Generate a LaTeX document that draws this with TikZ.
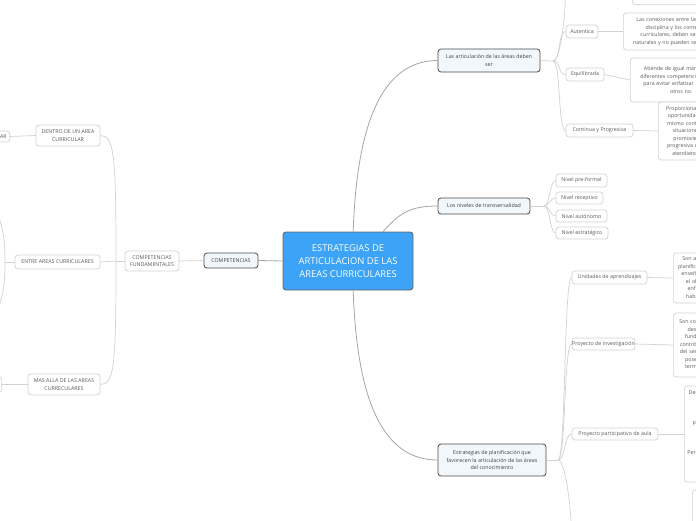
\documentclass[tikz,border=0pt]{standalone}
\usepackage{fontspec}
\setmainfont{Open Sans}
\usetikzlibrary{positioning}
\definecolor{centralblue}{RGB}{61,163,246}
\definecolor{topicfill}{RGB}{242,247,252}
\definecolor{linkgray}{RGB}{165,165,165}
\definecolor{leafgray}{RGB}{210,210,210}
\definecolor{textgray}{RGB}{90,90,90}
\tikzset{
  central/.style={draw=black!60, fill=centralblue, rounded corners=3pt, line width=0.9pt, text=white, align=center, font=\fontsize{9.4}{13}\selectfont, inner sep=0pt},
  topic/.style={draw=black!70, fill=topicfill, rounded corners=3pt, line width=0.8pt, text=black!75, align=center, font=\fontsize{5.3}{7.5}\selectfont, inner sep=0pt},
  leaf/.style={draw=leafgray, fill=white, rounded corners=3pt, line width=0.7pt, text=textgray, align=center, font=\fontsize{5.3}{7.5}\selectfont, inner sep=0pt},
  note/.style={leaf, inner xsep=3pt, anchor=west},
  link/.style={draw=linkgray, line width=0.8pt},
  branch/.style={draw=leafgray, line width=0.7pt},
}
\begin{document}
\begin{tikzpicture}[x=1pt, y=-1pt]
  \useasboundingbox (0,0) rectangle (696,520);
  \fill[white] (0,0) rectangle (696,520);
  \clip (0,0) rectangle (696,520);

  % Central
  \node[central, minimum width=130pt, minimum height=58pt] (central) at (348,261) {ESTRATEGIAS DE\\ARTICULACION DE LAS\\AREAS CURRICULARES};

  % Left side
  \node[topic, minimum width=54pt, minimum height=15pt] (comp) at (231,260.5) {COMPETENCIAS};
  \node[leaf, minimum width=54pt, minimum height=20pt] (fund) at (152,261) {COMPETENCIAS\\FUNDAMENTALES};
  \node[leaf, minimum width=64pt, minimum height=21pt] (dentro) at (68,135.5) {DENTRO DE UN AREA\\CURRICULAR};
  \node[leaf, minimum width=85pt, minimum height=14pt] (entre) at (57.5,262) {ENTRE AREAS CURRICULARES};
  \node[leaf, minimum width=72pt, minimum height=21pt] (masalla) at (64,384.5) {MAS ALLA DE LAS AREAS\\CURRECULARES};
  \node[leaf, anchor=east, inner xsep=3pt, minimum height=11pt] (intra) at (10,136.5) {INTRADISCIPLINAR};
  \node[leaf, anchor=east, minimum width=50pt, minimum height=16pt] (trans) at (2,384.5) {};
  \coordinate (fundj) at (116,261);
  \coordinate (entrej) at (5,262);
  \coordinate (entreup) at (-3,212);
  \coordinate (entredn) at (-3,312);

  \draw[link] (central.west) -- (comp.east);
  \draw[branch] (comp.west) -- (fund.east);
  \draw[branch] (fund.west) -- (fundj);
  \draw[branch] (fundj) .. controls +(0,-105) and +(14,0) .. (dentro.east);
  \draw[branch] (fundj) -- (entre.east);
  \draw[branch] (fundj) .. controls +(0,105) and +(14,0) .. (masalla.east);
  \draw[branch] (dentro.west) -- (intra.east);
  \draw[branch] (masalla.west) -- (trans.east);
  \draw[branch] (entre.west) -- (entrej);
  \draw[branch] (entrej) .. controls +(0,-30) and +(4,12) .. (entreup);
  \draw[branch] (entrej) .. controls +(0,30) and +(4,-12) .. (entredn);

  % Articulacion
  \node[topic, minimum width=102pt, minimum height=23pt] (artic) at (489,60.5) {Las articulación de las áreas deben\\ser};
  \node[leaf, minimum width=32pt, minimum height=13pt] (autent) at (582,31.5) {Autentica};
  \node[leaf, minimum width=38pt, minimum height=13pt] (equil) at (585,74.5) {Equilibrada};
  \node[leaf, minimum width=67pt, minimum height=13pt] (contin) at (599.5,130.5) {Continua y Progresiva};
  \node[note, text width=90pt, minimum height=25pt, anchor=south west] (topnote) at (632,5) {Permite la secuencia lógica\\y progresión de los aprendizajes.};
  \node[note, text width=104pt, minimum height=37pt] (autnote) at (623,31.5) {Las conexiones entre las áreas, la\\disciplina y los contenidos\\curriculares, deben ser lo más\\naturales y no pueden ser forzadas.};
  \node[note, text width=96pt, minimum height=44pt] (eqnote) at (630,80) {Atiende de igual manera a las\\diferentes competencias y áreas,\\para evitar enfatizar algunas y\\otros no.};
  \node[note, text width=90pt, minimum height=58pt] (connote) at (658,131) {Proporciona a los estudiantes la\\oportunidad de trabajar con el\\mismo contenido en diferentes\\situaciones de aprendizaje,\\promoviendo el desarrollo\\progresiva de las competencias\\atendiendo a la diversidad.};
  \coordinate (articj) at (553,61);
  \coordinate (articup) at (566,-20);

  \draw[link] (central.80) .. controls +(4,-120) and +(-50,0) .. (artic.west);
  \draw[branch] (artic.east) -- (articj);
  \draw[branch] (articj) .. controls +(8,0) and +(-8,0) .. (autent.west);
  \draw[branch] (articj) .. controls +(8,0) and +(-8,0) .. (equil.west);
  \draw[branch] (articj) .. controls +(8,0) and +(-8,0) .. (contin.west);
  \draw[branch] (articj) .. controls +(8,0) and +(0,30) .. (articup);
  \draw[branch] (autent.east) -- (autnote.west);
  \draw[branch] (equil.east) -- (eqnote.west);
  \draw[branch] (contin.east) -- (connote.west);

  % Niveles
  \node[topic, minimum width=92pt, minimum height=16pt] (nivel) at (484,206) {Los niveles de transversalidad};
  \node[leaf, minimum width=51pt, minimum height=13pt] (preform) at (581.5,180.5) {Nivel pre-formal};
  \node[leaf, minimum width=47pt, minimum height=12pt] (recep) at (579.5,198) {Nivel receptivo};
  \node[leaf, minimum width=51pt, minimum height=12pt] (auton) at (581.5,216) {Nivel autónomo};
  \node[leaf, minimum width=52pt, minimum height=12pt] (estrat) at (582,233) {Nivel estratégico};
  \coordinate (nivelj) at (544,206);

  \draw[link] (central.40) .. controls +(16,-18) and +(-28,0) .. (nivel.west);
  \draw[branch] (nivel.east) -- (nivelj);
  \draw[branch] (nivelj) .. controls +(6,0) and +(-6,0) .. (preform.west);
  \draw[branch] (nivelj) .. controls +(6,0) and +(-6,0) .. (recep.west);
  \draw[branch] (nivelj) .. controls +(6,0) and +(-6,0) .. (auton.west);
  \draw[branch] (nivelj) .. controls +(6,0) and +(-6,0) .. (estrat.west);

  % Estrategias
  \node[topic, minimum width=108pt, minimum height=32pt] (plan) at (492,460) {Estrategias de planificación que\\favorecen la articulación de las áreas\\del conocimiento};
  \node[leaf, minimum width=75pt, minimum height=13pt] (unid) at (609.5,277.5) {Unidades de aprendizajes};
  \node[leaf, minimum width=63pt, minimum height=12pt] (invest) at (603.5,344) {Proyecto de investigación};
  \node[leaf, minimum width=86pt, minimum height=12pt] (partic) at (615,434) {Proyecto participativo de aula};
  \node[note, text width=90pt, minimum height=50pt] (unidnote) at (673,278) {Son acciones de corto plazo de\\planificación curricular de la etapa\\enseñanza y el aprendizaje, con\\el objetivo de desarrollar un\\enfoque globalizado de las\\habilidades y competencias.};
  \node[note, text width=90pt, minimum height=64pt] (invnote) at (673,345) {Son conjuntos de actividades que\\desarrollan los estudiantes\\fundamentalmente permiten\\contribuir a la formación integral\\del ser humano, que le permitirá\\poseer una visión amplia del\\terminar su proyecto de vida};
  \node[note, text width=100pt, minimum height=96pt] (partnote) at (684,434) {Desarrollan actividades en el aula para\\lograr aprendizajes\\significativos en los\\estudiantes y a la vez\\participar activamente en su propio\\aprendizaje, resolviendo\\problemas de su entorno\\en forma colaborativa.\\Permiten integrar diferentes contenidos\\de las áreas y\\desarrollar las\\competencias.};
  \node[note, minimum width=60pt, minimum height=70pt] (lastnote) at (692,525) {};
  \coordinate (planj) at (558,460);
  \coordinate (plandn) at (572,545);

  \draw[link] (central.-80) .. controls +(4,120) and +(-50,0) .. (plan.west);
  \draw[branch] (plan.east) -- (planj);
  \draw[branch] (planj) .. controls +(8,0) and +(-8,0) .. (unid.west);
  \draw[branch] (planj) .. controls +(8,0) and +(-8,0) .. (invest.west);
  \draw[branch] (planj) .. controls +(8,0) and +(-8,0) .. (partic.west);
  \draw[branch] (planj) .. controls +(8,0) and +(0,-30) .. (plandn);
  \draw[branch] (unid.east) -- (unidnote.west);
  \draw[branch] (invest.east) -- (invnote.west);
  \draw[branch] (partic.east) -- (partnote.west);
\end{tikzpicture}
\end{document}
